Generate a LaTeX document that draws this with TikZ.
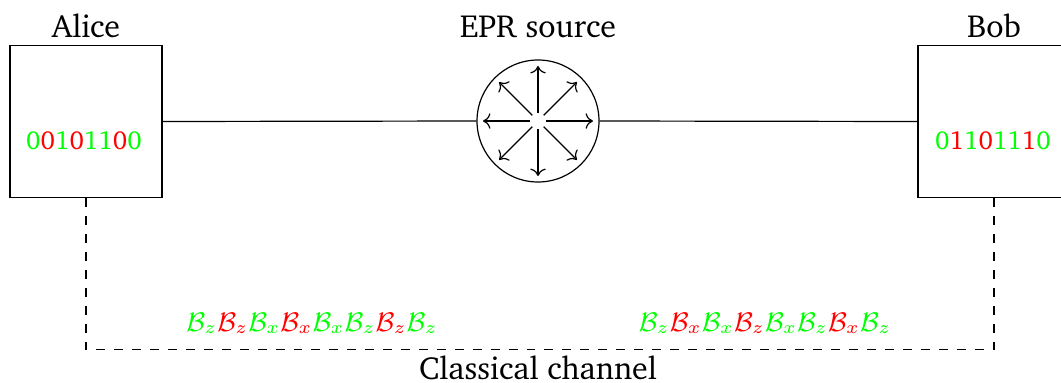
\documentclass[tikz,border=0pt]{standalone}
\usepackage[T1]{fontenc}
\usepackage{charter}
\usepackage{amsmath, amsfonts}
\usetikzlibrary{arrows.meta, positioning}

\definecolor{okgreen}{RGB}{0,255,0}
\definecolor{badred}{RGB}{255,0,0}
\newcommand{\g}[1]{\textcolor{okgreen}{#1}}
\newcommand{\rd}[1]{\textcolor{badred}{#1}}
\newcommand{\Bz}{\mathcal{B}_z}
\newcommand{\Bx}{\mathcal{B}_x}

\begin{document}
\begin{tikzpicture}[
    x=0.01176cm, y=-0.01176cm,
    every node/.append style = {font=\fontsize{10.7}{13}\selectfont},
    party/.style = {draw, rectangle, minimum size=152*0.01176cm, inner sep=0pt},
    source/.style = {draw, circle, minimum size=122*0.01176cm, inner sep=0pt},
    lbl/.style = {anchor=base},
    small lbl/.style = {anchor=base, font=\fontsize{8.7}{10}\selectfont}
  ]
  \useasboundingbox (0,0) rectangle (1061,382);

  % the two parties and the source
  \node[party] (alice) at (86,121.5) {};
  \node[party] (bob) at (994,121.5) {};
  \node[source] (epr) at (538,121) {};

  \node[lbl] (alicelbl) at (86,37) {Alice};
  \node[lbl] (boblbl) at (994,37) {Bob};
  \node[lbl] (eprlbl) at (538,37) {EPR source};

  % quantum channel
  \draw (alice.east) -- (epr.west);
  \draw (epr.east) -- (bob.west);

  % pairs sent in all directions
  \foreach \a in {0,45,...,315} {
    \draw[->] (epr.center) ++(\a:8) -- ++(\a:47);
  }

  % sifted keys
  \node[small lbl] (alicekey) at (84,149)
    {\g{0}\rd{0}\g{1}\rd{0}\g{1}\g{1}\rd{0}\g{0}};
  \node[small lbl] (bobkey) at (993,149)
    {\g{0}\rd{1}\g{1}\rd{0}\g{1}\g{1}\rd{1}\g{0}};

  % classical channel
  \draw[dashed] (alice.south) -- ++(0,151) coordinate (corner) -| (bob.south);
  \node[small lbl] (alicebasis) at (312,331)
    {$\g{\Bz}\rd{\Bz}\g{\Bx}\rd{\Bx}\g{\Bx}\g{\Bz}\rd{\Bz}\g{\Bz}$};
  \node[small lbl] (bobbasis) at (765,331)
    {$\g{\Bz}\rd{\Bx}\g{\Bx}\rd{\Bz}\g{\Bx}\g{\Bz}\rd{\Bx}\g{\Bz}$};
  \node[lbl] (classical) at (538,379) {Classical channel};
\end{tikzpicture}
\end{document}
